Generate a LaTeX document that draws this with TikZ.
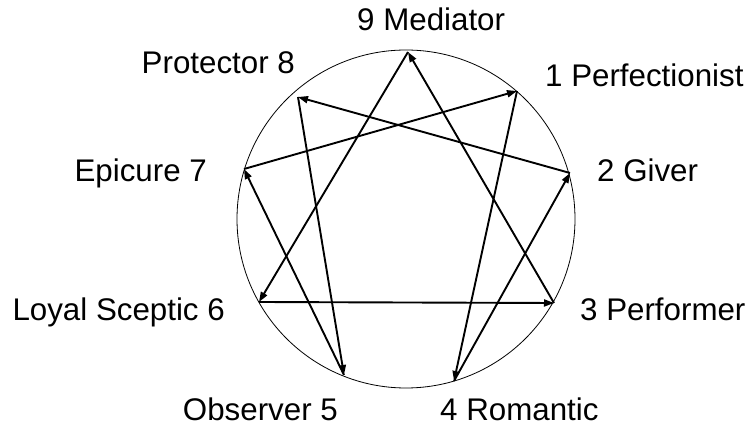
\documentclass[tikz,border=0pt]{standalone}
\usepackage{fontspec}
\setmainfont{Liberation Sans}
\usetikzlibrary{arrows.meta}
\begin{document}
\begin{tikzpicture}[x=1pt,y=-1pt,
  conn/.style={line width=1.9pt,-{Triangle[length=10pt,width=7pt]}},
  lbl/.style={font=\fontsize{31.3}{35}\selectfont,inner sep=0pt}]
\useasboundingbox (0,0) rectangle (748,427);
\fill[white] (0,0) rectangle (748,427);
\node[draw,circle,line width=0.8pt,minimum size=338pt,inner sep=0pt] (c) at (406,219) {};
\coordinate (p9) at (408,52);
\coordinate (p1) at (517,91);
\coordinate (p2) at (570,173);
\coordinate (p3) at (554,303);
\coordinate (p4) at (454,381);
\coordinate (p5) at (344,375);
\coordinate (p6) at (259,302);
\coordinate (p7) at (244,169);
\coordinate (p8) at (298,97);
\draw[conn] (p9) -- (p6);
\draw[conn] (p6) -- (p3);
\draw[conn] (p3) -- (p9);
\draw[conn] (p1) -- (p4);
\draw[conn] (p4) -- (p2);
\draw[conn] (p2) -- (p8);
\draw[conn] (p8) -- (p5);
\draw[conn] (p5) -- (p7);
\draw[conn] (p7) -- (p1);
\node[lbl,anchor=base west] (l9) at (357,31) {9 Mediator};
\node[lbl,anchor=base west] (l1) at (545,87) {1 Perfectionist};
\node[lbl,anchor=base west] (l2) at (597,182) {2 Giver};
\node[lbl,anchor=base west] (l3) at (580,321) {3 Performer};
\node[lbl,anchor=base west] (l4) at (440,421) {4 Romantic};
\node[lbl,anchor=base east] (l5) at (338,421) {Observer 5};
\node[lbl,anchor=base east] (l6) at (225,321) {Loyal Sceptic 6};
\node[lbl,anchor=base east] (l7) at (207,182) {Epicure 7};
\node[lbl,anchor=base east] (l8) at (295,74) {Protector 8};
\end{tikzpicture}
\end{document}
